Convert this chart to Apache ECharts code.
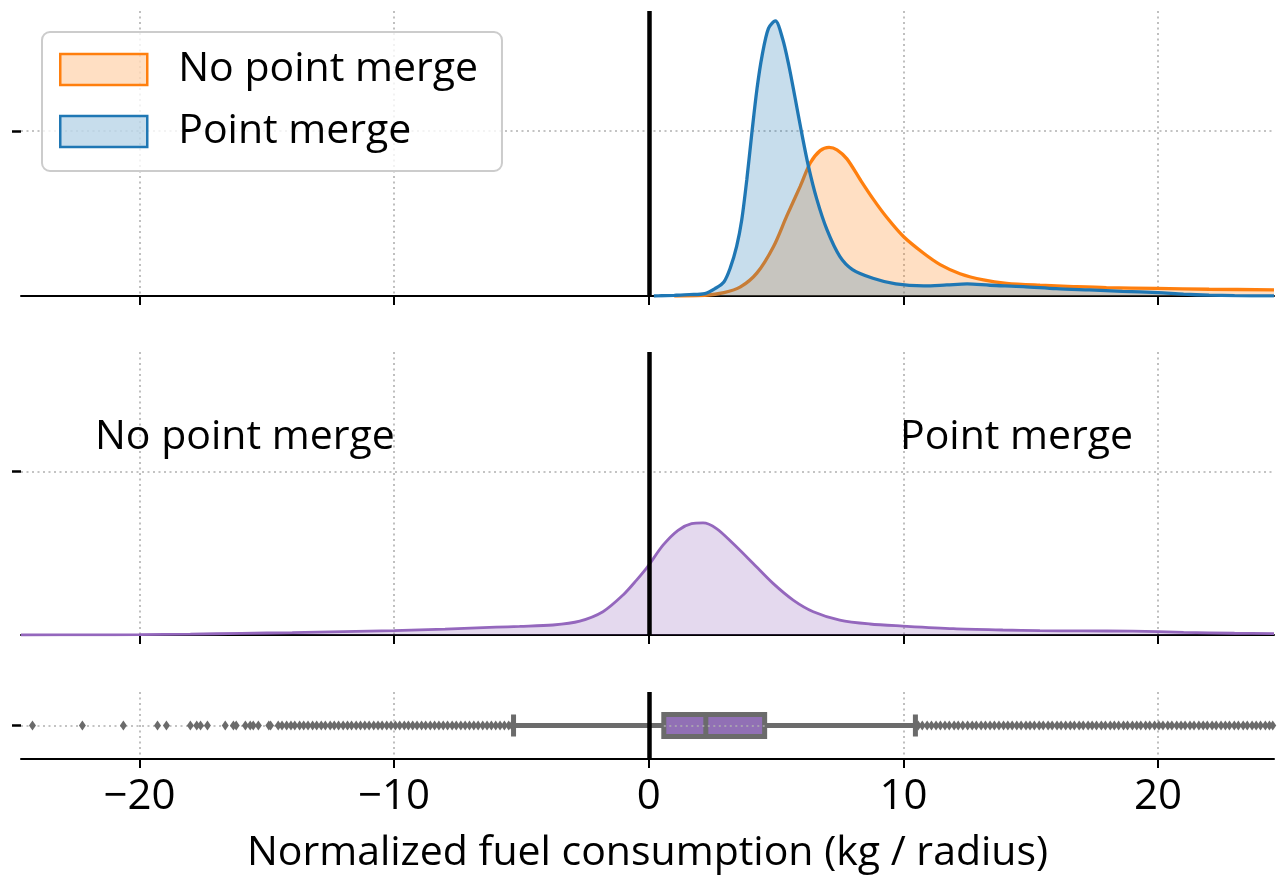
<!DOCTYPE html>
<html>
<head>
<meta charset="utf-8">
<script src="https://cdn.jsdelivr.net/npm/echarts@6/dist/echarts.min.js"></script>
<style>
  html, body { margin: 0; padding: 0; background: #ffffff; }
  #chart { width: 1280px; height: 875px; }
</style>
</head>
<body>
<div id="chart"></div>
<script>
// ---- shared x axis ----
const xTicks = [-20, -10, 0, 10, 20];
const xRange = [-24.65, 24.55];
const xTitle = 'Normalized fuel consumption (kg / radius)';

// ---- top panel: density of fuel use with and without point merge ----
const noMergeX = [1.0, 2.2, 2.95, 3.6, 4.25, 4.9, 5.42, 5.95, 6.34, 6.73, 7.08, 7.39, 7.78, 8.3, 8.82,
  9.35, 10.0, 10.78, 11.44, 12.22, 13.14, 14.05, 15.36, 16.67, 17.97, 19.93, 22.0, 24.55];
const noMergeY = [0, 0.0008, 0.004, 0.011, 0.028, 0.060, 0.097, 0.133, 0.161, 0.176, 0.180, 0.177, 0.166, 0.141, 0.117,
  0.095, 0.072, 0.052, 0.038, 0.027, 0.0195, 0.0154, 0.013, 0.0114, 0.0101, 0.0092, 0.0082, 0.0075];

const mergeX = [0.2, 0.5, 1.0, 1.6, 2.2, 2.6, 2.95, 3.2, 3.45, 3.65, 3.85, 4.05, 4.25, 4.45, 4.7, 4.97,
  5.25, 5.5, 5.75, 6.0, 6.27, 6.6, 7.0, 7.5, 8.0, 8.8, 9.7, 10.8, 11.7, 12.5, 13.4, 14.7, 16.0,
  17.3, 18.6, 20.0, 21.0, 22.0, 23.0, 24.55];
const mergeY = [0, 0.0003, 0.0008, 0.0016, 0.003, 0.009, 0.017, 0.034, 0.060, 0.092, 0.141, 0.198, 0.251, 0.291, 0.324, 0.333,
  0.312, 0.279, 0.239, 0.198, 0.157, 0.117, 0.080, 0.048, 0.032, 0.0215, 0.0146, 0.0122, 0.0134, 0.0146, 0.013, 0.0114, 0.0089,
  0.0073, 0.0057, 0.004, 0.0022, 0.001, 0.0004, 0.0001];

// ---- middle panel: density of the difference ----
const diffX = [-24.65, -22, -20, -18, -16, -14, -12, -10, -8, -6, -5.07, -3.76, -2.71, -1.8, -1.01, -0.48, -0.05,
  0.56, 1.15, 1.68, 2.13, 2.66, 3.31, 4.1, 4.88, 5.67, 6.46, 7.5, 8.68, 9.97, 11.96, 13.9, 15.36, 17, 19, 21, 23, 24.55];
const diffY = [0, 0.0001, 0.0003, 0.0008, 0.0015, 0.0022, 0.0031, 0.0040, 0.0054, 0.0072, 0.0079, 0.0092, 0.0128, 0.0214, 0.0367, 0.0504, 0.0626,
  0.0825, 0.0962, 0.1023, 0.103, 0.0978, 0.084, 0.0657, 0.0474, 0.0321, 0.0214, 0.0137, 0.0101, 0.0082, 0.0058, 0.0046, 0.004, 0.0038, 0.0035, 0.0025, 0.0016, 0.0012];

// ---- bottom panel: box plot of the difference ----
const boxCategory = ['delta'];
const boxStats = [-5.31, 0.59, 2.24, 4.55, 10.47]; // whisker low, Q1, median, Q3, whisker high
const outliersLow = [-24.2, -22.24, -20.63, -19.29, -18.94, -18.0, -17.75, -17.6, -17.33, -16.63, -16.31, -16.2,
  -15.84, -15.65, -15.53, -15.33, -14.92, -14.85, -14.55, -14.4,
  -14.22, -14.05, -13.9, -13.71, -13.55, -13.38, -13.2, -13.04, -12.86, -12.7, -12.51, -12.35, -12.18, -12.0,
  -11.83, -11.67, -11.49, -11.32, -11.15, -10.98, -10.8, -10.63, -10.47, -10.29, -10.12, -9.95, -9.78, -9.6,
  -9.44, -9.27, -9.1, -8.92, -8.76, -8.58, -8.41, -8.24, -8.07, -7.9, -7.72, -7.56, -7.38, -7.21, -7.04,
  -6.87, -6.7, -6.52, -6.35, -6.18, -6.01, -5.84, -5.67, -5.5, -5.38];
const outliersHigh = [10.58, 10.74, 10.93, 11.1, 11.28, 11.45, 11.63, 11.8, 11.99, 12.15, 12.33, 12.52, 12.7, 12.86,
  13.05, 13.22, 13.4, 13.57, 13.75, 13.93, 14.1, 14.27, 14.45, 14.62, 14.81, 14.97, 15.14, 15.33, 15.49, 15.68,
  15.84, 16.03, 16.19, 16.37, 16.55, 16.71, 16.9, 17.06, 17.25, 17.41, 17.58, 17.77, 17.93, 18.12, 18.28, 18.45,
  18.64, 18.8, 18.99, 19.16, 19.32, 19.51, 19.67, 19.86, 20.03, 20.19, 20.38, 20.54, 20.73, 20.9, 21.06, 21.25,
  21.41, 21.6, 21.77, 21.93, 22.12, 22.28, 22.47, 22.64, 22.8, 22.99, 23.15, 23.34, 23.5, 23.69, 23.85, 24.02,
  24.21, 24.37, 24.5];

// ---- styling ----
const FONT = 'Open Sans';
const GRID_LINE = { color: '#b0b0b0', width: 1.6, type: [2, 3.5] };
const BLACK = '#000000';
const ORANGE = '#ff7f0e', BLUE = '#1f77b4', PURPLE = '#9467bd', BOX_GRAY = '#6b6b6b';

const zip = (xs, ys) => xs.map((x, i) => [x, ys[i]]);
const minus = v => (v < 0 ? '\u2212' + Math.abs(v) : String(v));

const grids = [
  { left: 21, right: 6, top: 11, height: 285 },
  { left: 21, right: 6, top: 352, height: 283 },
  { left: 21, right: 6, top: 692, height: 70 }
];

function makeXAxis(gridIndex, withLabels) {
  return {
    type: 'value', gridIndex, min: xRange[0], max: xRange[1],
    axisLine: { show: true, onZero: false, lineStyle: { color: BLACK, width: 2 } },
    axisTick: { show: true, customValues: xTicks, length: 9, lineStyle: { color: BLACK, width: 2 } },
    axisLabel: {
      show: withLabels, customValues: xTicks, formatter: minus, margin: 17,
      fontFamily: FONT, fontSize: 42, lineHeight: 42, color: BLACK
    },
    splitLine: { show: true, lineStyle: GRID_LINE },
    name: withLabels ? xTitle : '',
    nameLocation: 'middle', nameGap: 74,
    nameTextStyle: { fontFamily: FONT, fontSize: 41, lineHeight: 41, color: BLACK }
  };
}

function makeYAxis(gridIndex, max, tick) {
  return {
    type: 'value', gridIndex, min: 0, max,
    axisLine: { show: false, onZero: false },
    axisTick: { show: true, customValues: [tick], length: 9, lineStyle: { color: BLACK, width: 2.5 } },
    axisLabel: { show: false, customValues: [tick] },
    splitLine: { show: true, lineStyle: GRID_LINE }
  };
}

const zeroLine = {
  silent: true, symbol: ['none', 'none'], label: { show: false },
  lineStyle: { color: BLACK, width: 4.5, type: 'solid' },
  emphasis: { disabled: true },
  data: [{ xAxis: 0 }]
};

const option = {
  animation: false,
  backgroundColor: '#ffffff',
  grid: grids,
  xAxis: [makeXAxis(0, false), makeXAxis(1, false), makeXAxis(2, true)],
  yAxis: [
    makeYAxis(0, 0.345, 0.2),
    makeYAxis(1, 0.26, 0.15),
    {
      type: 'category', gridIndex: 2, data: boxCategory,
      axisLine: { show: false, onZero: false },
      axisTick: { show: true, alignWithLabel: true, length: 9, lineStyle: { color: BLACK, width: 2.5 } },
      axisLabel: { show: false },
      splitLine: { show: false }
    }
  ],
  legend: {
    orient: 'vertical', left: 42, top: 32,
    padding: [17, 24, 19, 17],
    itemGap: 21, itemWidth: 87, itemHeight: 31,
    selectedMode: false,
    backgroundColor: 'rgba(255,255,255,0.8)',
    borderColor: '#cccccc', borderWidth: 2, borderRadius: 8,
    textStyle: { fontFamily: FONT, fontSize: 41, lineHeight: 31, color: BLACK, padding: [0, 0, 0, 26] },
    data: [
      { name: 'No point merge', icon: 'rect',
        itemStyle: { color: 'rgba(255,127,14,0.25)', borderColor: ORANGE, borderWidth: 2.5 } },
      { name: 'Point merge', icon: 'rect',
        itemStyle: { color: 'rgba(31,119,180,0.25)', borderColor: BLUE, borderWidth: 2.5 } }
    ]
  },
  graphic: [
    { type: 'text', x: 95, y: 437, z: 10,
      style: { text: 'No point merge', font: '41px "Open Sans"', fill: BLACK, verticalAlign: 'middle', align: 'left' } },
    { type: 'text', x: 900, y: 437, z: 10,
      style: { text: 'Point merge', font: '41px "Open Sans"', fill: BLACK, verticalAlign: 'middle', align: 'left' } }
  ],
  series: [
    {
      name: 'No point merge', type: 'line', xAxisIndex: 0, yAxisIndex: 0,
      data: zip(noMergeX, noMergeY), showSymbol: false, smooth: 0.3, clip: true,
      lineStyle: { color: ORANGE, width: 3.3 }, itemStyle: { color: ORANGE },
      areaStyle: { color: 'rgba(255,127,14,0.25)', opacity: 1, origin: 'start' }, z: 2
    },
    {
      name: 'Point merge', type: 'line', xAxisIndex: 0, yAxisIndex: 0,
      data: zip(mergeX, mergeY), showSymbol: false, smooth: 0.3, clip: true,
      lineStyle: { color: BLUE, width: 3.3 }, itemStyle: { color: BLUE },
      areaStyle: { color: 'rgba(31,119,180,0.25)', opacity: 1, origin: 'start' }, z: 3,
      markLine: zeroLine
    },
    {
      name: 'Difference', type: 'line', xAxisIndex: 1, yAxisIndex: 1,
      data: zip(diffX, diffY), showSymbol: false, smooth: 0.3, clip: true,
      lineStyle: { color: PURPLE, width: 2.8 }, itemStyle: { color: PURPLE },
      areaStyle: { color: 'rgba(148,103,189,0.25)', opacity: 1, origin: 'start' },
      markLine: zeroLine
    },
    {
      name: 'Outliers', type: 'scatter', xAxisIndex: 2, yAxisIndex: 2,
      data: outliersLow.concat(outliersHigh).map(v => [v, boxCategory[0]]),
      symbol: 'diamond', symbolSize: [7, 10],
      itemStyle: { color: BOX_GRAY, opacity: 1 }, z: 2, silent: true,
      markLine: {
        z: 1, silent: true, symbol: ['none', 'none'], label: { show: false },
        lineStyle: GRID_LINE,
        data: [{ yAxis: boxCategory[0] }]
      }
    },
    {
      name: 'Box', type: 'boxplot', xAxisIndex: 2, yAxisIndex: 2,
      data: [boxStats], boxWidth: [22, 22], silent: true, z: 3,
      itemStyle: { color: '#9170b5', borderColor: BOX_GRAY, borderWidth: 5 },
      markLine: {
        silent: true, symbol: ['none', 'none'], label: { show: false },
        lineStyle: { color: BLACK, width: 4.5, type: 'solid' },
        data: [
          { xAxis: 0 },
          [
            { coord: [boxStats[1], boxCategory[0]], lineStyle: GRID_LINE },
            { coord: [boxStats[3], boxCategory[0]] }
          ]
        ]
      }
    }
  ]
};

const chart = echarts.init(document.getElementById('chart'), null, { renderer: 'canvas' });
chart.setOption(option);
</script>
</body>
</html>
